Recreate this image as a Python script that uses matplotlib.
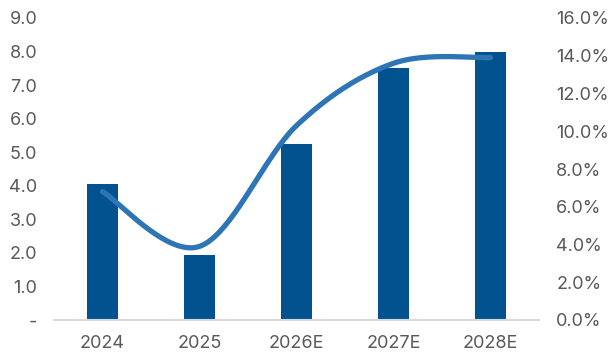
import numpy as np
import matplotlib
matplotlib.use("Agg")
import matplotlib.pyplot as plt
from matplotlib.ticker import FixedLocator, FuncFormatter

categories = ["2024", "2025", "2026E", "2027E", "2028E"]
bar_values = [4.05, 1.93, 5.25, 7.5, 8.0]
growth_pct = [6.8, 3.9, 10.3, 13.6, 13.9]
left_ticks = [0, 1, 2, 3, 4, 5, 6, 7, 8, 9]
right_ticks = [0, 2, 4, 6, 8, 10, 12, 14, 16]

plt.rcParams["font.family"] = ["Inter", "DejaVu Sans"]

BAR_COLOR = "#02528f"
LINE_COLOR = "#2e75b6"
TEXT_COLOR = "#595959"
AXIS_COLOR = "#d9d9d9"

fig = plt.figure(figsize=(6.10, 3.54), dpi=100)
ax = fig.add_axes([54 / 610, 1 - 320 / 354, (539 - 54) / 610, (320 - 18) / 354])
ax2 = ax.twinx()

x = np.arange(len(categories))
ax.bar(x, bar_values, width=0.31, color=BAR_COLOR, zorder=2)
ax.set_xlim(-0.5, len(categories) - 0.5)
ax.set_ylim(0, 9)
ax.yaxis.set_major_locator(FixedLocator(left_ticks))
ax.yaxis.set_major_formatter(FuncFormatter(lambda v, p: "-" if v == 0 else f"{v:.1f}"))
ax.set_xticks(x)
ax.set_xticklabels(categories)


def smooth_curve(xs, ys, n=40):
    """Catmull-Rom style smoothing through the given points."""
    pts = np.column_stack([xs, ys]).astype(float)
    ext = np.vstack([pts[0], pts, pts[-1]])
    out = []
    for i in range(len(pts) - 1):
        p0, p1, p2, p3 = ext[i], ext[i + 1], ext[i + 2], ext[i + 3]
        c1 = p1 + (p2 - p0) / 6.0
        c2 = p2 - (p3 - p1) / 6.0
        t = np.linspace(0, 1, n)[:, None]
        seg = ((1 - t) ** 3) * p1 + 3 * ((1 - t) ** 2) * t * c1 + 3 * (1 - t) * t ** 2 * c2 + t ** 3 * p2
        out.append(seg if i == 0 else seg[1:])
    out = np.vstack(out)
    return out[:, 0], out[:, 1]


sx, sy = smooth_curve(x, growth_pct)
ax2.plot(sx, sy, color=LINE_COLOR, lw=3.8, solid_capstyle="round", zorder=3)
ax2.set_ylim(0, 16)
ax2.yaxis.set_major_locator(FixedLocator(right_ticks))
ax2.yaxis.set_major_formatter(FuncFormatter(lambda v, p: f"{v:.1f}%"))

for a in (ax, ax2):
    for s in a.spines.values():
        s.set_visible(False)
    a.tick_params(length=0, labelsize=13, labelcolor=TEXT_COLOR)
ax.spines["bottom"].set_visible(True)
ax.spines["bottom"].set_color(AXIS_COLOR)
ax.spines["bottom"].set_linewidth(1.5)
ax.tick_params(axis="y", pad=12)
ax.tick_params(axis="x", pad=11)
ax2.tick_params(axis="y", pad=12.5)

fig.savefig("out.png", dpi=100)
